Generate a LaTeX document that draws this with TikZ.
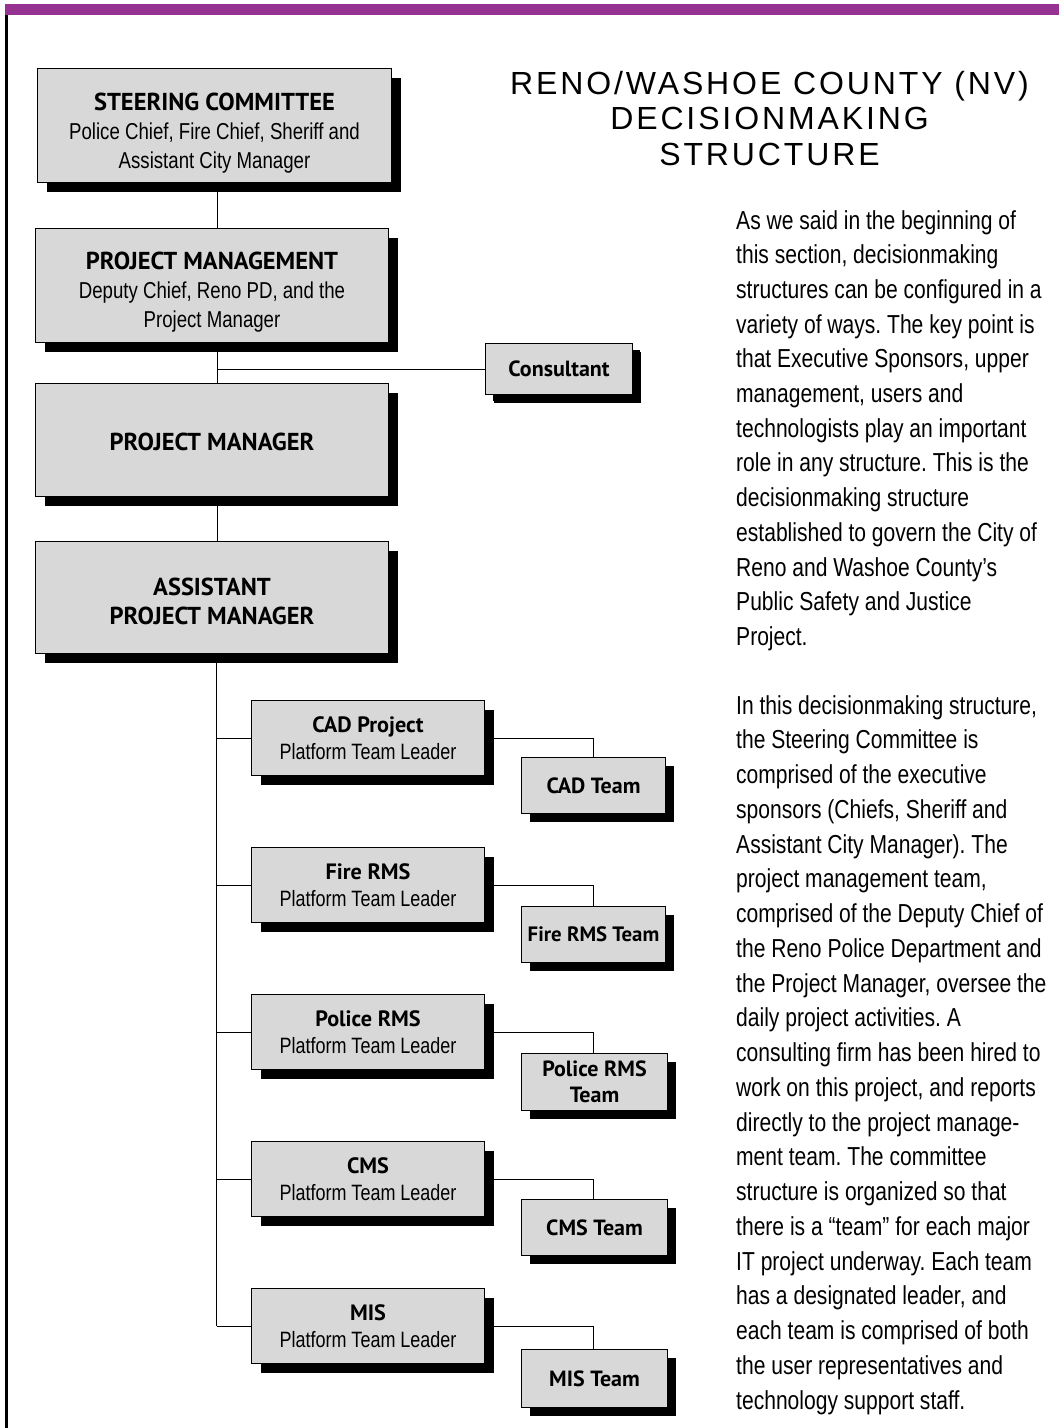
\documentclass[tikz,border=0pt]{standalone}
\usepackage{fontspec}
\setmainfont{Liberation Sans}
\newfontfamily\condf[FakeStretch=0.81]{Liberation Sans}
\newfontfamily\boldf{PT Sans}
\newfontfamily\titlef[LetterSpace=9]{Liberation Sans}
\usetikzlibrary{shadows,backgrounds}
\definecolor{barpurple}{RGB}{149,50,146}
\definecolor{boxgray}{RGB}{216,216,216}
\newcommand{\hd}[1]{{\boldf\bfseries #1}}
\newcommand{\hdb}[1]{{\boldf\bfseries\fontsize{24.5}{29}\selectfont #1}}
\frenchspacing
\begin{document}
\begin{tikzpicture}[x=1pt,y=-1pt,
  boxbase/.style={draw=black, line width=1pt, fill=boxgray, inner sep=0pt,
    anchor=north west, align=center, text=black},
  bigbox/.style={boxbase, font=\condf\fontsize{23}{29}\selectfont,
    drop shadow={fill=black, opacity=1, shadow xshift=9pt, shadow yshift=-9pt}},
  midbox/.style={boxbase, minimum width=233pt, minimum height=75pt,
    font=\condf\fontsize{22.2}{27}\selectfont,
    drop shadow={fill=black, opacity=1, shadow xshift=9pt, shadow yshift=-9pt}},
  teambox/.style={boxbase, font=\boldf\bfseries\fontsize{22}{26.5}\selectfont,
    drop shadow={fill=black, opacity=1, shadow xshift=8pt, shadow yshift=-8pt}},
  conn/.style={draw=black, line width=1pt},
  bodytext/.style={anchor=base west, inner sep=0pt, font=\condf\fontsize{26}{34.7}\selectfont, text=black},
  titletext/.style={anchor=base, inner sep=0pt, font=\titlef\fontsize{32}{36}\selectfont, text=black}
]
\useasboundingbox (0,0) rectangle (1059,1428);
% frame
\fill[barpurple] (5,4) rectangle (1059,15);
\fill[black] (5,15) rectangle (7.5,1428);

% title
\node[titletext] (t1) at (769.5,94) {RENO/WASHOE COUNTY (NV)};
\node[titletext] (t2) at (769.5,129.5) {DECISIONMAKING};
\node[titletext] (t3) at (769.5,165.5) {STRUCTURE};

% upper chain
\node[bigbox, minimum width=354pt, minimum height=114pt] (steer) at (37,68)
  {\rule{0pt}{33pt}\hdb{STEERING COMMITTEE}\\Police Chief, Fire Chief, Sheriff and\\Assistant City Manager};
\node[bigbox, minimum width=353pt, minimum height=114pt] (pmgmt) at (35,228)
  {\rule{0pt}{30pt}\hdb{PROJECT MANAGEMENT}\\Deputy Chief, Reno PD, and the\\Project Manager};
\node[teambox, minimum width=147pt, minimum height=51pt,
  drop shadow={fill=black, opacity=1, shadow xshift=7pt, shadow yshift=-6pt}] (cons) at (485,343) {Consultant};
\node[bigbox, minimum width=353pt, minimum height=113pt] (pm) at (35,383)
  {\rule{0pt}{21pt}\hdb{PROJECT MANAGER}};
\node[bigbox, minimum width=353pt, minimum height=112pt] (apm) at (35,541)
  {\rule{0pt}{25pt}\hdb{ASSISTANT}\\\hdb{PROJECT MANAGER}};

% platform team leaders
\node[midbox] (cad) at (251,700) {\hd{CAD Project}\\Platform Team Leader};
\node[midbox] (fire) at (251,847) {\hd{Fire RMS}\\Platform Team Leader};
\node[midbox] (pol) at (251,994) {\hd{Police RMS}\\Platform Team Leader};
\node[midbox] (cms) at (251,1141) {\hd{CMS}\\Platform Team Leader};
\node[midbox] (mis) at (251,1288) {\hd{MIS}\\Platform Team Leader};

% teams
\node[teambox, minimum width=144pt, minimum height=56pt] (cadT) at (521,757) {CAD Team};
\node[teambox, minimum width=144pt, minimum height=56pt,
  font=\boldf\bfseries\fontsize{20.8}{26.5}\selectfont] (fireT) at (521,906) {Fire RMS Team};
\node[teambox, minimum width=146pt, minimum height=57pt] (polT) at (521,1053) {Police RMS\\Team};
\node[teambox, minimum width=146pt, minimum height=56pt] (cmsT) at (521,1199) {CMS Team};
\node[teambox, minimum width=146pt, minimum height=58pt] (misT) at (521,1349) {MIS Team};

\coordinate (spine) at (217.5,0);
\coordinate (spineb) at (216.5,0);
\coordinate (tcol) at (593.5,0);

\begin{pgfonlayer}{background}
\draw[conn] (steer.south -| spine) -- (pmgmt.north -| spine);
\draw[conn] (pmgmt.south -| spine) -- (pm.north -| spine);
\draw[conn] (cons.west -| spine) -- (cons.west);
\draw[conn] (pm.south -| spine) -- (apm.north -| spine);
\draw[conn] (apm.south -| spineb) -- (mis.west -| spineb);
\foreach \b in {cad,fire,pol,cms,mis}{
  \draw[conn] (\b.west -| spineb) -- (\b.west);
  \draw[conn] (\b.east) -- (\b.east -| tcol) -- (\b T.north -| tcol);
}
\end{pgfonlayer}

% body text
\foreach \t [count=\i] in {
 {As we said in the beginning of},
 {this section, decisionmaking},
 {structures can be configured in a},
 {variety of ways. The key point is},
 {that Executive Sponsors, upper},
 {management, users and},
 {technologists play an important},
 {role in any structure. This is the},
 {decisionmaking structure},
 {established to govern the City of},
 {Reno and Washoe County’s},
 {Public Safety and Justice},
 {Project.}}
 {\node[bodytext] (pa\i) at (736,{229+(\i-1)*34.7}) {\t};}

\foreach \t [count=\i] in {
 {In this decisionmaking structure,},
 {the Steering Committee is},
 {comprised of the executive},
 {sponsors (Chiefs, Sheriff and},
 {Assistant City Manager). The},
 {project management team,},
 {comprised of the Deputy Chief of},
 {the Reno Police Department and},
 {the Project Manager, oversee the},
 {daily project activities. A},
 {consulting firm has been hired to},
 {work on this project, and reports},
 {directly to the project manage-},
 {ment team. The committee},
 {structure is organized so that},
 {there is a “team” for each major},
 {IT project underway. Each team},
 {has a designated leader, and},
 {each team is comprised of both},
 {the user representatives and},
 {technology support staff.}}
 {\node[bodytext] (pb\i) at (736,{714+(\i-1)*34.75}) {\t};}
\end{tikzpicture}
\end{document}
